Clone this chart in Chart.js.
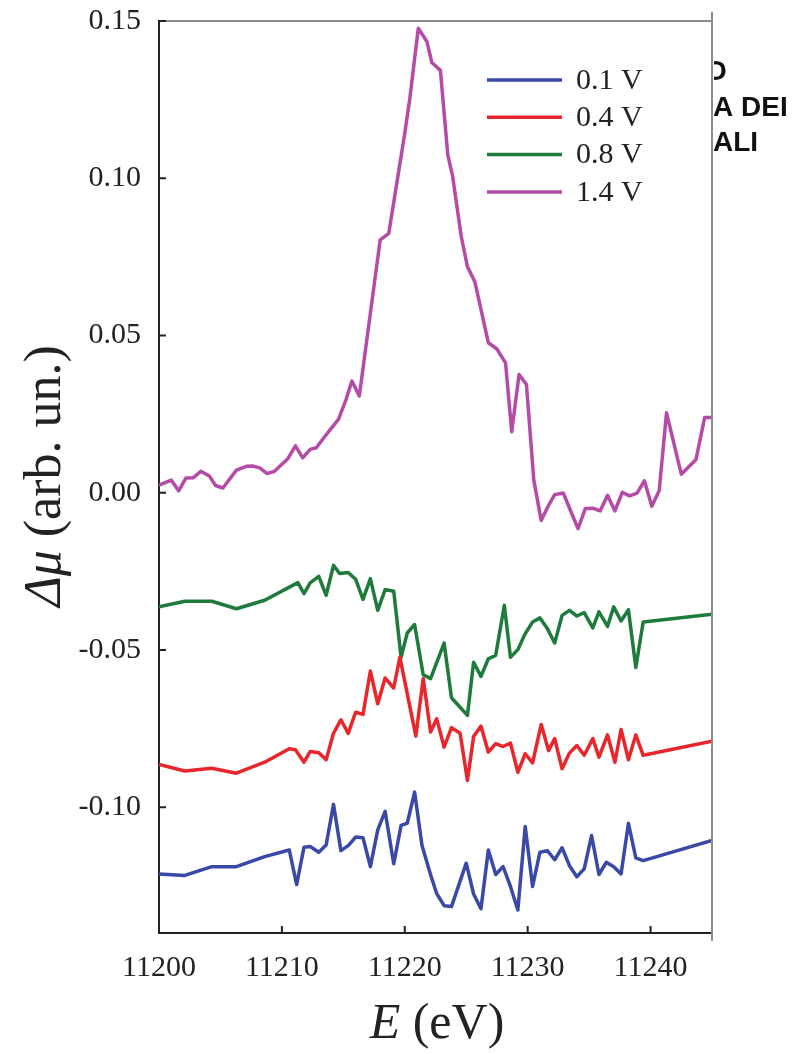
<!DOCTYPE html>
<html>
<head>
<meta charset="utf-8">
<script src="https://cdn.jsdelivr.net/npm/chart.js@4.4.1/dist/chart.umd.min.js"></script>
<style>
  html, body { margin: 0; padding: 0; background: #fff; }
</style>
</head>
<body>
<canvas id="chart" width="804" height="1054"></canvas>
<script>
// energy grid (eV) and delta-mu for each potential
const e01 = [11200, 11202.1, 11204.3, 11206.3, 11208.6, 11210.6, 11211.2, 11211.8, 11212.3, 11213.0, 11213.6, 11214.2, 11214.8, 11215.4, 11216.0, 11216.6, 11217.2, 11217.8, 11218.4, 11219.1, 11219.7, 11220.2, 11220.8, 11221.4, 11222.1, 11222.6, 11223.2, 11223.8, 11225.0, 11225.6, 11226.2, 11226.8, 11227.4, 11228.0, 11228.6, 11229.2, 11229.8, 11230.4, 11231.0, 11231.6, 11232.2, 11232.8, 11233.4, 11234.0, 11234.6, 11235.2, 11235.8, 11236.4, 11237.0, 11237.6, 11238.2, 11238.8, 11239.4, 11245];
const mu01 = [-0.1212, -0.1217, -0.1189, -0.1189, -0.1157, -0.1136, -0.1246, -0.1127, -0.1125, -0.1143, -0.1120, -0.0991, -0.1138, -0.1122, -0.1095, -0.1097, -0.1189, -0.1072, -0.1013, -0.1180, -0.1058, -0.1051, -0.0952, -0.1122, -0.1215, -0.1275, -0.1313, -0.1316, -0.1178, -0.1276, -0.1323, -0.1136, -0.1214, -0.1189, -0.1252, -0.1327, -0.1061, -0.1252, -0.1143, -0.1138, -0.1167, -0.1129, -0.1186, -0.1221, -0.1196, -0.1090, -0.1214, -0.1175, -0.1189, -0.1212, -0.1051, -0.1161, -0.1170, -0.1106];

const e04 = [11200, 11202.1, 11204.3, 11206.3, 11208.6, 11210.6, 11211.1, 11211.8, 11212.3, 11213.0, 11213.6, 11214.2, 11214.8, 11215.4, 11216.0, 11216.6, 11217.2, 11217.8, 11218.4, 11219.1, 11219.6, 11220.9, 11221.5, 11222.1, 11222.6, 11223.2, 11223.8, 11224.5, 11225.1, 11225.6, 11226.2, 11226.8, 11227.4, 11228.0, 11228.6, 11229.2, 11229.8, 11230.4, 11231.1, 11231.7, 11232.2, 11232.8, 11233.4, 11234.0, 11234.6, 11235.3, 11235.8, 11236.5, 11237.1, 11237.6, 11238.2, 11238.8, 11239.4, 11245];
const mu04 = [-0.0864, -0.0885, -0.0876, -0.0892, -0.0857, -0.0814, -0.0817, -0.0857, -0.0823, -0.0827, -0.0849, -0.0765, -0.0722, -0.0765, -0.0698, -0.0705, -0.0567, -0.0671, -0.0589, -0.0621, -0.0523, -0.0774, -0.0591, -0.0761, -0.0719, -0.0809, -0.0747, -0.0765, -0.0915, -0.0775, -0.0742, -0.0825, -0.0798, -0.0807, -0.0796, -0.0889, -0.0830, -0.0859, -0.0737, -0.0820, -0.0782, -0.0878, -0.0828, -0.0804, -0.0835, -0.0782, -0.0841, -0.0770, -0.0857, -0.0753, -0.0849, -0.0770, -0.0835, -0.0790];

const e08 = [11200, 11202.1, 11204.3, 11206.3, 11208.6, 11211.3, 11211.8, 11212.3, 11213.0, 11213.6, 11214.2, 11214.7, 11215.4, 11216.0, 11216.6, 11217.2, 11217.8, 11218.4, 11219.1, 11219.7, 11220.2, 11220.8, 11221.5, 11222.1, 11223.2, 11223.8, 11225.1, 11225.6, 11226.2, 11226.8, 11227.4, 11228.1, 11228.6, 11229.2, 11229.8, 11230.4, 11231.0, 11231.6, 11232.2, 11232.8, 11233.4, 11234.0, 11234.6, 11235.3, 11235.8, 11236.5, 11237.0, 11237.6, 11238.2, 11238.8, 11239.4, 11245];
const mu08 = [-0.0363, -0.0345, -0.0345, -0.0369, -0.0342, -0.0286, -0.0321, -0.0287, -0.0266, -0.0326, -0.0231, -0.0257, -0.0254, -0.0275, -0.0339, -0.0273, -0.0374, -0.0308, -0.0313, -0.0523, -0.0446, -0.0419, -0.0579, -0.0591, -0.0478, -0.0652, -0.0708, -0.0539, -0.0584, -0.0528, -0.0517, -0.0358, -0.0523, -0.0499, -0.0448, -0.0411, -0.0398, -0.0432, -0.0478, -0.0390, -0.0374, -0.0392, -0.0381, -0.0430, -0.0379, -0.0425, -0.0363, -0.0408, -0.0372, -0.0556, -0.0411, -0.0386];

const e14 = [11200, 11201.0, 11201.6, 11202.2, 11202.8, 11203.4, 11204.1, 11204.6, 11205.2, 11206.3, 11207.1, 11207.6, 11208.2, 11208.8, 11209.4, 11210.5, 11211.1, 11211.7, 11212.3, 11212.8, 11213.4, 11214.0, 11214.6, 11215.2, 11215.7, 11216.3, 11218.0, 11218.7, 11220.0, 11220.4, 11221.1, 11221.8, 11222.2, 11222.9, 11223.5, 11223.9, 11224.6, 11225.1, 11225.7, 11226.8, 11227.5, 11228.2, 11228.7, 11229.3, 11229.9, 11230.5, 11231.1, 11231.7, 11232.2, 11232.9, 11233.5, 11234.1, 11234.7, 11235.3, 11235.9, 11236.5, 11237.1, 11237.7, 11238.3, 11238.9, 11239.5, 11240.1, 11240.7, 11241.3, 11242.5, 11243.7, 11244.4, 11245];
const mu14 = [0.0024, 0.0040, 0.0006, 0.0047, 0.0048, 0.0068, 0.0053, 0.0023, 0.0015, 0.0072, 0.0084, 0.0085, 0.0079, 0.0061, 0.0068, 0.0109, 0.0149, 0.0111, 0.0138, 0.0143, 0.0174, 0.0204, 0.0233, 0.0294, 0.0355, 0.0308, 0.0804, 0.0825, 0.1143, 0.1250, 0.1477, 0.1435, 0.1368, 0.1343, 0.1074, 0.1005, 0.0814, 0.0719, 0.0671, 0.0477, 0.0457, 0.0413, 0.0194, 0.0376, 0.0344, 0.0040, -0.0088, -0.0040, -0.0006, -0.0001, -0.0058, -0.0114, -0.0050, -0.0049, -0.0058, -0.0008, -0.0058, 0.0001, -0.0010, -0.0001, 0.0038, -0.0043, 0.0006, 0.0254, 0.0059, 0.0106, 0.0239, 0.0239];

const seriesLabels = ["0.1 V", "0.4 V", "0.8 V", "1.4 V"];
const xTicks = [11200, 11210, 11220, 11230, 11240];
const yTicks = [-0.10, -0.05, 0.00, 0.05, 0.10, 0.15];

const colors = ["#3a48a6", "#e8262c", "#1f7b3b", "#b54ba7"];
const serif = '"Liberation Serif", "Times New Roman", serif';

const pts = (xs, ys) => xs.map((e, i) => ({ x: e, y: ys[i] }));

// legend, axis titles, inward ticks and the grey frame
const decor = {
  id: "decor",
  afterDraw(chart) {
    const { ctx, chartArea: a, scales: { x, y } } = chart;
    ctx.save();

    ctx.strokeStyle = "#8c8c8c";
    ctx.lineWidth = 2;
    ctx.beginPath();
    ctx.moveTo(a.left, a.top);
    ctx.lineTo(a.right, a.top);
    ctx.moveTo(a.right, a.top - 9);
    ctx.lineTo(a.right, a.bottom + 8);
    ctx.stroke();

    ctx.strokeStyle = "#222";
    ctx.beginPath();
    yTicks.forEach(v => {
      const py = y.getPixelForValue(v);
      ctx.moveTo(a.left, py);
      ctx.lineTo(a.left + 7, py);
    });
    xTicks.forEach(v => {
      const px = x.getPixelForValue(v);
      ctx.moveTo(px, a.bottom);
      ctx.lineTo(px, a.bottom - 7);
    });
    ctx.stroke();

    // legend
    ctx.textBaseline = "middle";
    ctx.textAlign = "left";
    ctx.font = "30px " + serif;
    seriesLabels.forEach((lab, i) => {
      const ly = 80 + i * 37.3;
      ctx.strokeStyle = colors[i];
      ctx.lineWidth = 3.5;
      ctx.beginPath();
      ctx.moveTo(487, ly);
      ctx.lineTo(562, ly);
      ctx.stroke();
      ctx.fillStyle = "#222";
      ctx.fillText(lab, 576, ly + 1);
    });

    // y title: italic symbol, upright unit
    ctx.fillStyle = "#222";
    ctx.save();
    ctx.translate(46, 476);
    ctx.rotate(-Math.PI / 2);
    ctx.font = "italic 52px " + serif;
    const w1 = ctx.measureText("Δμ").width;
    ctx.font = "52px " + serif;
    const w2 = ctx.measureText(" (arb. un.)").width;
    let sx = -(w1 + w2) / 2;
    ctx.font = "italic 52px " + serif;
    ctx.fillText("Δμ", sx, 0);
    ctx.font = "52px " + serif;
    ctx.fillText(" (arb. un.)", sx + w1, 0);
    ctx.restore();

    // x title
    ctx.textBaseline = "alphabetic";
    ctx.font = "italic 50px " + serif;
    const v1 = ctx.measureText("E").width;
    ctx.font = "50px " + serif;
    const v2 = ctx.measureText(" (eV)").width;
    sx = 437 - (v1 + v2) / 2;
    ctx.font = "italic 50px " + serif;
    ctx.fillText("E", sx, 1038);
    ctx.font = "50px " + serif;
    ctx.fillText(" (eV)", sx + v1, 1038);

    // clipped banner text beyond the right frame
    ctx.beginPath();
    ctx.rect(a.right + 2, 0, 200, 300);
    ctx.clip();
    ctx.fillStyle = "#111";
    ctx.textBaseline = "middle";
    ctx.font = 'bold 28px "Liberation Sans", Arial, sans-serif';
    ctx.fillText("O", 705, 72);
    ctx.fillText("A DEI", 713, 108);
    ctx.fillText("ALI", 713, 143);

    ctx.restore();
  }
};

new Chart(document.getElementById("chart").getContext("2d"), {
  type: "line",
  data: {
    datasets: [
      { label: seriesLabels[0], data: pts(e01, mu01), borderColor: colors[0] },
      { label: seriesLabels[1], data: pts(e04, mu04), borderColor: colors[1] },
      { label: seriesLabels[2], data: pts(e08, mu08), borderColor: colors[2] },
      { label: seriesLabels[3], data: pts(e14, mu14), borderColor: colors[3] }
    ]
  },
  options: {
    responsive: false,
    animation: false,
    layout: { padding: { top: 21, right: 92, left: 0, bottom: 0 } },
    elements: {
      point: { radius: 0 },
      line: { borderWidth: 3.5, tension: 0, borderJoinStyle: "round" }
    },
    plugins: {
      legend: { display: false },
      tooltip: { enabled: false }
    },
    scales: {
      x: {
        type: "linear",
        min: 11200,
        max: 11245,
        afterFit: s => { s.height = 121; s.paddingLeft = 0; s.paddingRight = 0; },
        afterBuildTicks: s => { s.ticks = xTicks.map(v => ({ value: v })); },
        grid: { display: false, drawTicks: false },
        border: { display: true, color: "#222", width: 2 },
        ticks: {
          padding: 17,
          color: "#222",
          font: { family: serif, size: 30 },
          maxRotation: 0,
          callback: v => String(v)
        }
      },
      y: {
        type: "linear",
        min: -0.14,
        max: 0.15,
        afterFit: s => { s.width = 159; s.paddingTop = 0; s.paddingBottom = 0; },
        afterBuildTicks: s => { s.ticks = yTicks.map(v => ({ value: v })); },
        grid: { display: false, drawTicks: false },
        border: { display: true, color: "#222", width: 2 },
        ticks: {
          padding: 18,
          color: "#222",
          font: { family: serif, size: 30 },
          callback: v => v.toFixed(2)
        }
      }
    }
  },
  plugins: [decor]
});
</script>
</body>
</html>
